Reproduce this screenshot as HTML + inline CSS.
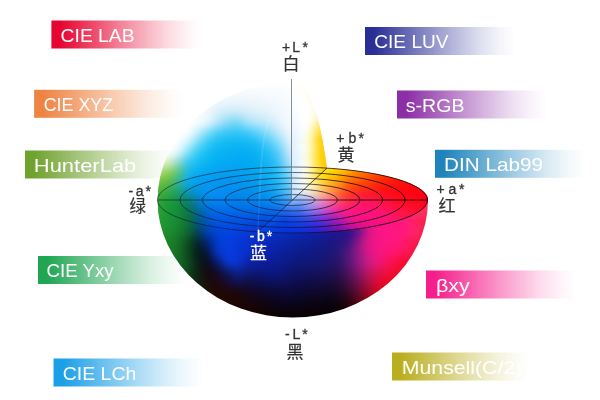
<!DOCTYPE html>
<html lang="zh"><head><meta charset="utf-8"><title>CIE color spaces</title>
<style>
html,body{margin:0;padding:0;background:#fff;}
body{width:600px;height:400px;overflow:hidden;font-family:"Liberation Sans",sans-serif;}
svg{display:block;font-family:"Liberation Sans",sans-serif;}
</style></head><body>
<svg width="600" height="400" viewBox="0 0 600 400">
<defs>
<linearGradient id="bg0" x1="0" y1="0" x2="1" y2="0"><stop offset="0" stop-color="#e60530" stop-opacity="1"/><stop offset="0.06" stop-color="#e60530" stop-opacity="1"/><stop offset="0.36" stop-color="#e60530" stop-opacity="0.62"/><stop offset="0.56" stop-color="#e60530" stop-opacity="0.38"/><stop offset="0.76" stop-color="#e60530" stop-opacity="0.16"/><stop offset="0.9" stop-color="#e60530" stop-opacity="0.05"/><stop offset="1" stop-color="#e60530" stop-opacity="0"/></linearGradient>
<linearGradient id="bg1" x1="0" y1="0" x2="1" y2="0"><stop offset="0" stop-color="#ee8444" stop-opacity="1"/><stop offset="0.06" stop-color="#ee8444" stop-opacity="1"/><stop offset="0.36" stop-color="#ee8444" stop-opacity="0.62"/><stop offset="0.56" stop-color="#ee8444" stop-opacity="0.38"/><stop offset="0.76" stop-color="#ee8444" stop-opacity="0.16"/><stop offset="0.9" stop-color="#ee8444" stop-opacity="0.05"/><stop offset="1" stop-color="#ee8444" stop-opacity="0"/></linearGradient>
<linearGradient id="bg2" x1="0" y1="0" x2="1" y2="0"><stop offset="0" stop-color="#70a22e" stop-opacity="1"/><stop offset="0.06" stop-color="#70a22e" stop-opacity="1"/><stop offset="0.36" stop-color="#70a22e" stop-opacity="0.62"/><stop offset="0.56" stop-color="#70a22e" stop-opacity="0.38"/><stop offset="0.76" stop-color="#70a22e" stop-opacity="0.16"/><stop offset="0.9" stop-color="#70a22e" stop-opacity="0.05"/><stop offset="1" stop-color="#70a22e" stop-opacity="0"/></linearGradient>
<linearGradient id="bg3" x1="0" y1="0" x2="1" y2="0"><stop offset="0" stop-color="#20a653" stop-opacity="1"/><stop offset="0.06" stop-color="#20a653" stop-opacity="1"/><stop offset="0.36" stop-color="#20a653" stop-opacity="0.62"/><stop offset="0.56" stop-color="#20a653" stop-opacity="0.38"/><stop offset="0.76" stop-color="#20a653" stop-opacity="0.16"/><stop offset="0.9" stop-color="#20a653" stop-opacity="0.05"/><stop offset="1" stop-color="#20a653" stop-opacity="0"/></linearGradient>
<linearGradient id="bg4" x1="0" y1="0" x2="1" y2="0"><stop offset="0" stop-color="#1c9fe6" stop-opacity="1"/><stop offset="0.06" stop-color="#1c9fe6" stop-opacity="1"/><stop offset="0.36" stop-color="#1c9fe6" stop-opacity="0.62"/><stop offset="0.56" stop-color="#1c9fe6" stop-opacity="0.38"/><stop offset="0.76" stop-color="#1c9fe6" stop-opacity="0.16"/><stop offset="0.9" stop-color="#1c9fe6" stop-opacity="0.05"/><stop offset="1" stop-color="#1c9fe6" stop-opacity="0"/></linearGradient>
<linearGradient id="bg5" x1="0" y1="0" x2="1" y2="0"><stop offset="0" stop-color="#2a2f96" stop-opacity="1"/><stop offset="0.06" stop-color="#2a2f96" stop-opacity="1"/><stop offset="0.36" stop-color="#2a2f96" stop-opacity="0.62"/><stop offset="0.56" stop-color="#2a2f96" stop-opacity="0.38"/><stop offset="0.76" stop-color="#2a2f96" stop-opacity="0.16"/><stop offset="0.9" stop-color="#2a2f96" stop-opacity="0.05"/><stop offset="1" stop-color="#2a2f96" stop-opacity="0"/></linearGradient>
<linearGradient id="bg6" x1="0" y1="0" x2="1" y2="0"><stop offset="0" stop-color="#8c2ea6" stop-opacity="1"/><stop offset="0.06" stop-color="#8c2ea6" stop-opacity="1"/><stop offset="0.36" stop-color="#8c2ea6" stop-opacity="0.62"/><stop offset="0.56" stop-color="#8c2ea6" stop-opacity="0.38"/><stop offset="0.76" stop-color="#8c2ea6" stop-opacity="0.16"/><stop offset="0.9" stop-color="#8c2ea6" stop-opacity="0.05"/><stop offset="1" stop-color="#8c2ea6" stop-opacity="0"/></linearGradient>
<linearGradient id="bg7" x1="0" y1="0" x2="1" y2="0"><stop offset="0" stop-color="#1e84bb" stop-opacity="1"/><stop offset="0.06" stop-color="#1e84bb" stop-opacity="1"/><stop offset="0.36" stop-color="#1e84bb" stop-opacity="0.62"/><stop offset="0.56" stop-color="#1e84bb" stop-opacity="0.38"/><stop offset="0.76" stop-color="#1e84bb" stop-opacity="0.16"/><stop offset="0.9" stop-color="#1e84bb" stop-opacity="0.05"/><stop offset="1" stop-color="#1e84bb" stop-opacity="0"/></linearGradient>
<linearGradient id="bg8" x1="0" y1="0" x2="1" y2="0"><stop offset="0" stop-color="#f51e8c" stop-opacity="1"/><stop offset="0.06" stop-color="#f51e8c" stop-opacity="1"/><stop offset="0.36" stop-color="#f51e8c" stop-opacity="0.62"/><stop offset="0.56" stop-color="#f51e8c" stop-opacity="0.38"/><stop offset="0.76" stop-color="#f51e8c" stop-opacity="0.16"/><stop offset="0.9" stop-color="#f51e8c" stop-opacity="0.05"/><stop offset="1" stop-color="#f51e8c" stop-opacity="0"/></linearGradient>
<linearGradient id="bg9" x1="0" y1="0" x2="1" y2="0"><stop offset="0" stop-color="#b9ae1e" stop-opacity="1"/><stop offset="0.06" stop-color="#b9ae1e" stop-opacity="1"/><stop offset="0.36" stop-color="#b9ae1e" stop-opacity="0.62"/><stop offset="0.56" stop-color="#b9ae1e" stop-opacity="0.38"/><stop offset="0.76" stop-color="#b9ae1e" stop-opacity="0.16"/><stop offset="0.9" stop-color="#b9ae1e" stop-opacity="0.05"/><stop offset="1" stop-color="#b9ae1e" stop-opacity="0"/></linearGradient>
<clipPath id="bodyClip"><path d="M 292.5,82.5 A 135.0,117.5 0 0 0 157.5,200.0 A 135.0,117.5 0 0 0 292.5,317.5 A 135.0,117.5 0 0 0 428.0,200.0 A 135.0,33.0 0 0 0 327.0,168.1 C 325.8,160 324.8,153 323.5,146 C 322,136 320,127 317.5,118 C 315,108 310,96 304.5,88.5 C 301,84 297,81.5 292.5,82.5 Z"/></clipPath>
<clipPath id="faceClip"><path d="M 291.5,200.0 L 327.0,168.1 C 325.8,160 324.8,153 323.5,146 C 322,136 320,127 317.5,118 C 315,108 310,96 304.5,88.5 C 301,84 297,81.5 291.5,82.5 Z"/></clipPath>
<clipPath id="diskClip"><path d="M 327.0,168.1 A 135.0,33.0 0 0 1 428.0,200.0 A 135.0,33.0 0 0 1 258.0,231.9 Z"/></clipPath>
<filter id="bl4" x="-10%" y="-10%" width="120%" height="120%" color-interpolation-filters="sRGB"><feGaussianBlur stdDeviation="4"/></filter>
<filter id="bl05" x="-50%" y="-10%" width="200%" height="120%"><feGaussianBlur stdDeviation="0.7"/></filter>
<filter id="bl3" x="-10%" y="-10%" width="120%" height="120%" color-interpolation-filters="sRGB"><feGaussianBlur stdDeviation="3"/></filter>
<linearGradient id="lineG" gradientUnits="userSpaceOnUse" x1="157" y1="0" x2="428" y2="0"><stop offset="0" stop-color="#0a1028" stop-opacity="0.55"/><stop offset="0.5" stop-color="#0a1028" stop-opacity="0.6"/><stop offset="0.7" stop-color="#14060c" stop-opacity="0.8"/><stop offset="1" stop-color="#14060c" stop-opacity="0.85"/></linearGradient>
<rect id="c" width="10.6" height="10.6"/>
<rect id="f" width="4.6" height="8.6"/>
<rect id="d" width="8.6" height="8.6"/>
</defs>
<rect width="600" height="400" fill="#fff"/>
<g id="bars" style="will-change:transform">
<rect x="51.4" y="20.5" width="150" height="28" fill="url(#bg0)"/>
<text x="60.6" y="41.6" font-size="19" fill="#fff" textLength="74.0" lengthAdjust="spacingAndGlyphs">CIE LAB</text>
<rect x="34.1" y="89.8" width="150" height="28" fill="url(#bg1)"/>
<text x="43.7" y="111.4" font-size="19" fill="#fff" textLength="69.5" lengthAdjust="spacingAndGlyphs">CIE XYZ</text>
<rect x="25.0" y="150.5" width="150" height="28" fill="url(#bg2)"/>
<text x="33.8" y="171.5" font-size="19" fill="#fff" textLength="102.5" lengthAdjust="spacingAndGlyphs">HunterLab</text>
<rect x="38.0" y="256.0" width="150" height="28" fill="url(#bg3)"/>
<text x="46.6" y="276.5" font-size="19" fill="#fff" textLength="67.0" lengthAdjust="spacingAndGlyphs">CIE Yxy</text>
<rect x="53.5" y="358.5" width="150" height="28" fill="url(#bg4)"/>
<text x="62.8" y="379.5" font-size="19" fill="#fff" textLength="73.5" lengthAdjust="spacingAndGlyphs">CIE LCh</text>
<rect x="365.0" y="27.0" width="150" height="28" fill="url(#bg5)"/>
<text x="374.3" y="48.0" font-size="19" fill="#fff" textLength="74.2" lengthAdjust="spacingAndGlyphs">CIE LUV</text>
<rect x="397.0" y="90.5" width="150" height="28" fill="url(#bg6)"/>
<text x="405.8" y="111.5" font-size="19" fill="#fff" textLength="58.8" lengthAdjust="spacingAndGlyphs">s-RGB</text>
<rect x="435.0" y="149.8" width="150" height="28" fill="url(#bg7)"/>
<text x="444.0" y="170.9" font-size="19" fill="#fff" textLength="99.0" lengthAdjust="spacingAndGlyphs">DIN Lab99</text>
<rect x="426.0" y="270.5" width="150" height="28" fill="url(#bg8)"/>
<text x="436.0" y="291.5" font-size="19" fill="#fff" textLength="33.8" lengthAdjust="spacingAndGlyphs">βxy</text>
<rect x="392.0" y="352.5" width="138" height="28" fill="url(#bg9)"/>
<text x="401.8" y="373.5" font-size="19" fill="#fff" textLength="120.5" lengthAdjust="spacingAndGlyphs">Munsell(C/2)</text>
</g>
<g id="sphere">
<g clip-path="url(#bodyClip)"><g filter="url(#bl4)" transform="translate(-2.5,-2.5)">
<g transform="translate(0,70)">
<use href="#c" x="145" fill="#fffff0"/><use href="#c" x="155" fill="#fffff4"/><use href="#c" x="165" fill="#fffff8"/><use href="#c" x="175" fill="#fffffc"/><use href="#c" x="185" fill="#fffffe"/><rect x="195" width="90.6" height="10.6" fill="#ffffff"/><use href="#c" x="285" fill="#fffffe"/><use href="#c" x="295" fill="#fffefc"/><use href="#c" x="305" fill="#fffaf9"/><use href="#c" x="315" fill="#fff4f4"/><use href="#c" x="325" fill="#ffeeef"/><use href="#c" x="335" fill="#ffe7e9"/><use href="#c" x="345" fill="#ffdfe3"/><use href="#c" x="355" fill="#ffd7dc"/><use href="#c" x="365" fill="#ffcfd5"/><use href="#c" x="375" fill="#ffc7ce"/><use href="#c" x="385" fill="#ffbfc7"/><use href="#c" x="395" fill="#ffb7c0"/><use href="#c" x="405" fill="#ffb0b9"/><use href="#c" x="415" fill="#ffaab3"/><use href="#c" x="425" fill="#ffa4ac"/><use href="#c" x="435" fill="#ff9ea6"/>
</g>
<g transform="translate(0,80)">
<use href="#c" x="145" fill="#ffffef"/><use href="#c" x="155" fill="#fffff4"/><use href="#c" x="165" fill="#fffff8"/><use href="#c" x="175" fill="#fffffc"/><use href="#c" x="185" fill="#fffffe"/><rect x="195" width="100.6" height="10.6" fill="#ffffff"/><use href="#c" x="295" fill="#fffdfd"/><use href="#c" x="305" fill="#fff9f9"/><use href="#c" x="315" fill="#fff3f4"/><use href="#c" x="325" fill="#ffecee"/><use href="#c" x="335" fill="#ffe4e8"/><use href="#c" x="345" fill="#ffdbe1"/><use href="#c" x="355" fill="#ffd3da"/><use href="#c" x="365" fill="#ffcad3"/><use href="#c" x="375" fill="#ffc1cc"/><use href="#c" x="385" fill="#ffb9c4"/><use href="#c" x="395" fill="#ffb1bd"/><use href="#c" x="405" fill="#ffaab6"/><use href="#c" x="415" fill="#ffa3af"/><use href="#c" x="425" fill="#ff9da8"/><use href="#c" x="435" fill="#ff97a1"/>
</g>
<g transform="translate(0,90)">
<use href="#c" x="145" fill="#ffffed"/><use href="#c" x="155" fill="#fffff4"/><use href="#c" x="165" fill="#fffff9"/><use href="#c" x="175" fill="#fffffc"/><use href="#c" x="185" fill="#fffffe"/><use href="#c" x="195" fill="#ffffff"/><use href="#c" x="205" fill="#fffffe"/><use href="#c" x="215" fill="#fffffe"/><use href="#c" x="225" fill="#fafcfd"/><use href="#c" x="235" fill="#f6fafd"/><use href="#c" x="245" fill="#f7fafd"/><use href="#c" x="255" fill="#f6fafd"/><use href="#c" x="265" fill="#f7fbfd"/><use href="#c" x="275" fill="#f7fbfd"/><use href="#c" x="285" fill="#fafdfe"/><use href="#c" x="295" fill="#fffcfd"/><use href="#c" x="305" fill="#fff7f9"/><use href="#c" x="315" fill="#fff1f4"/><use href="#c" x="325" fill="#ffe9ee"/><use href="#c" x="335" fill="#ffe1e7"/><use href="#c" x="345" fill="#ffd7e0"/><use href="#c" x="355" fill="#ffced8"/><use href="#c" x="365" fill="#ffc4d1"/><use href="#c" x="375" fill="#ffbbc9"/><use href="#c" x="385" fill="#ffb3c1"/><use href="#c" x="395" fill="#ffaab9"/><use href="#c" x="405" fill="#ffa3b1"/><use href="#c" x="415" fill="#ff9caa"/><use href="#c" x="425" fill="#ff96a3"/><use href="#c" x="435" fill="#ff909c"/>
</g>
<g transform="translate(0,100)">
<use href="#c" x="145" fill="#ffffec"/><use href="#c" x="155" fill="#fffff3"/><use href="#c" x="165" fill="#fffff9"/><use href="#c" x="175" fill="#fffffc"/><use href="#c" x="185" fill="#fffffe"/><use href="#c" x="195" fill="#fffffe"/><use href="#c" x="205" fill="#fafcfd"/><use href="#c" x="215" fill="#eff7fb"/><use href="#c" x="225" fill="#eaf5fb"/><use href="#c" x="235" fill="#eaf4fb"/><use href="#c" x="245" fill="#ebf4fb"/><use href="#c" x="255" fill="#eef6fb"/><use href="#c" x="265" fill="#f0f7fc"/><use href="#c" x="275" fill="#f3f9fd"/><use href="#c" x="285" fill="#f6fafd"/><use href="#c" x="295" fill="#fffafc"/><use href="#c" x="305" fill="#fff6f8"/><use href="#c" x="315" fill="#ffeff3"/><use href="#c" x="325" fill="#ffe7ed"/><use href="#c" x="335" fill="#ffdde6"/><use href="#c" x="345" fill="#ffd2de"/><use href="#c" x="355" fill="#ffc8d6"/><use href="#c" x="365" fill="#ffbece"/><use href="#c" x="375" fill="#ffb4c5"/><use href="#c" x="385" fill="#ffabbd"/><use href="#c" x="395" fill="#ffa3b5"/><use href="#c" x="405" fill="#ff9bad"/><use href="#c" x="415" fill="#ff94a5"/><use href="#c" x="425" fill="#ff8e9e"/><use href="#c" x="435" fill="#ff8897"/>
</g>
<g transform="translate(0,110)">
<use href="#c" x="145" fill="#ffffea"/><use href="#c" x="155" fill="#fffff2"/><use href="#c" x="165" fill="#fffff9"/><use href="#c" x="175" fill="#fffffd"/><use href="#c" x="185" fill="#fffffe"/><use href="#c" x="195" fill="#f9fcfd"/><use href="#c" x="205" fill="#f0f7fc"/><use href="#c" x="215" fill="#d9effa"/><use href="#c" x="225" fill="#c8eaf9"/><use href="#c" x="235" fill="#c8eaf9"/><use href="#c" x="245" fill="#d5edf9"/><use href="#c" x="255" fill="#def0fa"/><use href="#c" x="265" fill="#e4f2fb"/><use href="#c" x="275" fill="#edf6fc"/><use href="#c" x="285" fill="#f5f9fd"/><use href="#c" x="295" fill="#fff9fc"/><use href="#c" x="305" fill="#fff5f8"/><use href="#c" x="315" fill="#ffedf2"/><use href="#c" x="325" fill="#ffe3ec"/><use href="#c" x="335" fill="#ffd8e4"/><use href="#c" x="345" fill="#ffcddc"/><use href="#c" x="355" fill="#ffc1d3"/><use href="#c" x="365" fill="#ffb6ca"/><use href="#c" x="375" fill="#ffacc2"/><use href="#c" x="385" fill="#ffa3b9"/><use href="#c" x="395" fill="#ff9ab0"/><use href="#c" x="405" fill="#ff92a8"/><use href="#c" x="415" fill="#ff8ca0"/><use href="#c" x="425" fill="#ff8598"/><use href="#c" x="435" fill="#ff8091"/>
</g>
<g transform="translate(0,120)">
<use href="#c" x="145" fill="#ffffe6"/><use href="#c" x="155" fill="#fffff1"/><use href="#c" x="165" fill="#fffffa"/><use href="#c" x="175" fill="#fffffe"/><use href="#c" x="185" fill="#ffffff"/><use href="#c" x="195" fill="#fafdfe"/><use href="#c" x="205" fill="#ebf8fd"/><use href="#c" x="215" fill="#b5e5f9"/><use href="#c" x="225" fill="#8bdaf7"/><use href="#c" x="235" fill="#73d7f8"/><use href="#c" x="245" fill="#a5e3f9"/><use href="#c" x="255" fill="#b8e7fa"/><use href="#c" x="265" fill="#c6eafb"/><use href="#c" x="275" fill="#e1f2fc"/><use href="#c" x="285" fill="#f5f9fd"/><use href="#c" x="295" fill="#fffafc"/><use href="#c" x="305" fill="#fff4f8"/><use href="#c" x="315" fill="#ffebf2"/><use href="#c" x="325" fill="#ffdfea"/><use href="#c" x="335" fill="#ffd2e2"/><use href="#c" x="345" fill="#ffc5d9"/><use href="#c" x="355" fill="#ffb9d0"/><use href="#c" x="365" fill="#ffadc7"/><use href="#c" x="375" fill="#ffa3bd"/><use href="#c" x="385" fill="#ff99b4"/><use href="#c" x="395" fill="#ff90ab"/><use href="#c" x="405" fill="#ff89a2"/><use href="#c" x="415" fill="#ff829a"/><use href="#c" x="425" fill="#ff7c92"/><use href="#c" x="435" fill="#ff778b"/>
</g>
<g transform="translate(0,130)">
<use href="#c" x="145" fill="#ffffe1"/><use href="#c" x="155" fill="#fffff0"/><use href="#c" x="165" fill="#fffffa"/><use href="#c" x="175" fill="#ffffff"/><use href="#c" x="185" fill="#ffffff"/><use href="#c" x="195" fill="#caf0fb"/><use href="#c" x="205" fill="#7cdef9"/><use href="#c" x="215" fill="#4dcdf6"/><use href="#c" x="225" fill="#36c7f6"/><use href="#c" x="235" fill="#31c4f7"/><use href="#c" x="245" fill="#3ec9f8"/><use href="#c" x="255" fill="#5fd2f9"/><use href="#c" x="265" fill="#89dcf9"/><use href="#c" x="275" fill="#bce9fa"/><use href="#c" x="285" fill="#e9f5fc"/><use href="#c" x="295" fill="#fff9fc"/><use href="#c" x="305" fill="#fff2f7"/><use href="#c" x="315" fill="#ffe7f1"/><use href="#c" x="325" fill="#ffd9e9"/><use href="#c" x="335" fill="#ffcbe0"/><use href="#c" x="345" fill="#ffbcd6"/><use href="#c" x="355" fill="#ffafcc"/><use href="#c" x="365" fill="#ffa3c2"/><use href="#c" x="375" fill="#ff98b8"/><use href="#c" x="385" fill="#ff8eaf"/><use href="#c" x="395" fill="#ff86a5"/><use href="#c" x="405" fill="#ff7e9c"/><use href="#c" x="415" fill="#ff7894"/><use href="#c" x="425" fill="#ff738c"/><use href="#c" x="435" fill="#ff6e84"/>
</g>
<g transform="translate(0,140)">
<use href="#c" x="145" fill="#ffffd7"/><use href="#c" x="155" fill="#ffffeb"/><use href="#c" x="165" fill="#fffffc"/><use href="#c" x="175" fill="#ffffff"/><use href="#c" x="185" fill="#d3f4fd"/><use href="#c" x="195" fill="#7bddf8"/><use href="#c" x="205" fill="#35caf5"/><use href="#c" x="215" fill="#18bef4"/><use href="#c" x="225" fill="#11baf4"/><use href="#c" x="235" fill="#10b7f5"/><use href="#c" x="245" fill="#12b8f5"/><use href="#c" x="255" fill="#22bdf6"/><use href="#c" x="265" fill="#4acbf8"/><use href="#c" x="275" fill="#7edbf9"/><use href="#c" x="285" fill="#d2edfb"/><use href="#c" x="295" fill="#fff6fb"/><use href="#c" x="305" fill="#ffeef6"/><use href="#c" x="315" fill="#ffe1ef"/><use href="#c" x="325" fill="#ffd1e7"/><use href="#c" x="335" fill="#ffc1dd"/><use href="#c" x="345" fill="#ffb1d3"/><use href="#c" x="355" fill="#ffa3c8"/><use href="#c" x="365" fill="#ff96be"/><use href="#c" x="375" fill="#ff8bb3"/><use href="#c" x="385" fill="#ff82a9"/><use href="#c" x="395" fill="#ff7a9f"/><use href="#c" x="405" fill="#ff7396"/><use href="#c" x="415" fill="#ff6d8d"/><use href="#c" x="425" fill="#ff6885"/><use href="#c" x="435" fill="#ff647d"/>
</g>
<g transform="translate(0,150)">
<use href="#c" x="145" fill="#f9fbc3"/><use href="#c" x="155" fill="#fffede"/><use href="#c" x="165" fill="#fffffd"/><use href="#c" x="175" fill="#e8f8fe"/><use href="#c" x="185" fill="#87e0f8"/><use href="#c" x="195" fill="#33cbf4"/><use href="#c" x="205" fill="#14bdf3"/><use href="#c" x="215" fill="#09b4f3"/><use href="#c" x="225" fill="#07b0f3"/><use href="#c" x="235" fill="#06adf3"/><use href="#c" x="245" fill="#05adf4"/><use href="#c" x="255" fill="#0bb1f4"/><use href="#c" x="265" fill="#22bdf6"/><use href="#c" x="275" fill="#51cbf8"/><use href="#c" x="285" fill="#b6e3fa"/><use href="#c" x="295" fill="#f8f1fa"/><use href="#c" x="305" fill="#ffe8f5"/><use href="#c" x="315" fill="#ffd8ee"/><use href="#c" x="325" fill="#ffc6e4"/><use href="#c" x="335" fill="#ffb4da"/><use href="#c" x="345" fill="#ffa3cf"/><use href="#c" x="355" fill="#ff95c3"/><use href="#c" x="365" fill="#ff88b8"/><use href="#c" x="375" fill="#ff7dad"/><use href="#c" x="385" fill="#ff74a2"/><use href="#c" x="395" fill="#ff6d98"/><use href="#c" x="405" fill="#ff678f"/><use href="#c" x="415" fill="#ff6286"/><use href="#c" x="425" fill="#ff5e7d"/><use href="#c" x="435" fill="#ff5a75"/>
</g>
<g transform="translate(0,160)">
<use href="#c" x="145" fill="#daeda1"/><use href="#c" x="155" fill="#dff0b4"/><use href="#c" x="165" fill="#def0c5"/><use href="#c" x="175" fill="#90dacb"/><use href="#c" x="185" fill="#36c8eb"/><use href="#c" x="195" fill="#16bef3"/><use href="#c" x="205" fill="#09b4f3"/><use href="#c" x="215" fill="#04adf3"/><use href="#c" x="225" fill="#04aaf3"/><use href="#c" x="235" fill="#03a8f2"/><use href="#c" x="245" fill="#04a9f1"/><use href="#c" x="255" fill="#06adf2"/><use href="#c" x="265" fill="#12b5f5"/><use href="#c" x="275" fill="#35c1f7"/><use href="#c" x="285" fill="#98dcf9"/><use href="#c" x="295" fill="#e3e9f9"/><use href="#c" x="305" fill="#f9ddf4"/><use href="#c" x="315" fill="#ffcbec"/><use href="#c" x="325" fill="#ffb7e2"/><use href="#c" x="335" fill="#ffa3d6"/><use href="#c" x="345" fill="#ff92ca"/><use href="#c" x="355" fill="#ff84be"/><use href="#c" x="365" fill="#ff78b2"/><use href="#c" x="375" fill="#ff6ea6"/><use href="#c" x="385" fill="#ff669b"/><use href="#c" x="395" fill="#ff5f91"/><use href="#c" x="405" fill="#ff5a88"/><use href="#c" x="415" fill="#ff567e"/><use href="#c" x="425" fill="#ff5375"/><use href="#c" x="435" fill="#ff506d"/>
</g>
<g transform="translate(0,170)">
<use href="#c" x="145" fill="#b1db76"/><use href="#c" x="155" fill="#a8d971"/><use href="#c" x="165" fill="#94d158"/><use href="#c" x="175" fill="#61c36c"/><use href="#c" x="185" fill="#1ab8e5"/><use href="#c" x="195" fill="#09adf2"/><use href="#c" x="205" fill="#05a6f2"/><use href="#c" x="215" fill="#04a1f1"/><use href="#c" x="225" fill="#049ff1"/><use href="#c" x="235" fill="#03a0f0"/><use href="#c" x="245" fill="#04a5ee"/><use href="#c" x="255" fill="#06a8f0"/><use href="#c" x="265" fill="#10b1f3"/><use href="#c" x="275" fill="#25bef7"/><use href="#c" x="285" fill="#6fd6fa"/><use href="#c" x="295" fill="#c5def8"/><use href="#c" x="305" fill="#e0cff3"/><use href="#c" x="315" fill="#eab9ea"/><use href="#c" x="325" fill="#f1a3df"/><use href="#c" x="335" fill="#fa8fd2"/><use href="#c" x="345" fill="#ff7ec4"/><use href="#c" x="355" fill="#ff70b7"/><use href="#c" x="365" fill="#ff65aa"/><use href="#c" x="375" fill="#ff5d9f"/><use href="#c" x="385" fill="#ff5694"/><use href="#c" x="395" fill="#ff518a"/><use href="#c" x="405" fill="#ff4d80"/><use href="#c" x="415" fill="#ff4a76"/><use href="#c" x="425" fill="#ff476d"/><use href="#c" x="435" fill="#ff4564"/>
</g>
<g transform="translate(0,180)">
<use href="#c" x="145" fill="#87c952"/><use href="#c" x="155" fill="#71c042"/><use href="#c" x="165" fill="#5eba39"/><use href="#c" x="175" fill="#33b28d"/><use href="#c" x="185" fill="#07abed"/><use href="#c" x="195" fill="#039df0"/><use href="#c" x="205" fill="#0499f1"/><use href="#c" x="215" fill="#0596f0"/><use href="#c" x="225" fill="#0593ef"/><use href="#c" x="235" fill="#0396ef"/><use href="#c" x="245" fill="#0398ee"/><use href="#c" x="255" fill="#069cee"/><use href="#c" x="265" fill="#10a9f1"/><use href="#c" x="275" fill="#20b7f5"/><use href="#c" x="285" fill="#5cd0f8"/><use href="#c" x="295" fill="#b1d1f8"/><use href="#c" x="305" fill="#c3bbf1"/><use href="#c" x="315" fill="#cba1e7"/><use href="#c" x="325" fill="#d48adb"/><use href="#c" x="335" fill="#e177cd"/><use href="#c" x="345" fill="#f367be"/><use href="#c" x="355" fill="#ff5baf"/><use href="#c" x="365" fill="#ff52a2"/><use href="#c" x="375" fill="#ff4b97"/><use href="#c" x="385" fill="#ff468c"/><use href="#c" x="395" fill="#ff4283"/><use href="#c" x="405" fill="#ff4079"/><use href="#c" x="415" fill="#ff3f6f"/><use href="#c" x="425" fill="#ff3d65"/><use href="#c" x="435" fill="#ff3b5b"/>
</g>
<g transform="translate(0,190)">
<use href="#c" x="145" fill="#64b93f"/><use href="#c" x="155" fill="#4daf38"/><use href="#c" x="165" fill="#33a842"/><use href="#c" x="175" fill="#1c9e72"/><use href="#c" x="185" fill="#0994ac"/><use href="#c" x="195" fill="#0491dd"/><use href="#c" x="205" fill="#0592f1"/><use href="#c" x="215" fill="#0590f1"/><use href="#c" x="225" fill="#058cf0"/><use href="#c" x="235" fill="#038bed"/><use href="#c" x="245" fill="#038ceb"/><use href="#c" x="255" fill="#0591ec"/><use href="#c" x="265" fill="#0899ef"/><use href="#c" x="275" fill="#15a4f4"/><use href="#c" x="285" fill="#54c1f8"/><use href="#c" x="295" fill="#95bbf5"/><use href="#c" x="305" fill="#9b9dee"/><use href="#c" x="315" fill="#a183e3"/><use href="#c" x="325" fill="#ac6cd7"/><use href="#c" x="335" fill="#c15bc7"/><use href="#c" x="345" fill="#dd4eb5"/><use href="#c" x="355" fill="#f944a5"/><use href="#c" x="365" fill="#ff3d98"/><use href="#c" x="375" fill="#ff398e"/><use href="#c" x="385" fill="#ff3585"/><use href="#c" x="395" fill="#ff347c"/><use href="#c" x="405" fill="#ff3473"/><use href="#c" x="415" fill="#ff3569"/><use href="#c" x="425" fill="#ff335c"/><use href="#c" x="435" fill="#ff3252"/>
</g>
<g transform="translate(0,200)">
<use href="#c" x="145" fill="#4caf37"/><use href="#c" x="155" fill="#32a536"/><use href="#c" x="165" fill="#1b9c39"/><use href="#c" x="175" fill="#15903f"/><use href="#c" x="185" fill="#0a7e65"/><use href="#c" x="195" fill="#017bb3"/><use href="#c" x="205" fill="#0482e5"/><use href="#c" x="215" fill="#0481ee"/><use href="#c" x="225" fill="#047fed"/><use href="#c" x="235" fill="#027ce9"/><use href="#c" x="245" fill="#017de6"/><use href="#c" x="255" fill="#027fe8"/><use href="#c" x="265" fill="#0582eb"/><use href="#c" x="275" fill="#148bee"/><use href="#c" x="285" fill="#3c95f2"/><use href="#c" x="295" fill="#5c8af0"/><use href="#c" x="305" fill="#6473e8"/><use href="#c" x="315" fill="#6d5ede"/><use href="#c" x="325" fill="#7c4bd2"/><use href="#c" x="335" fill="#983dc0"/><use href="#c" x="345" fill="#c234ac"/><use href="#c" x="355" fill="#ef2d99"/><use href="#c" x="365" fill="#ff2a8e"/><use href="#c" x="375" fill="#ff2886"/><use href="#c" x="385" fill="#ff267e"/><use href="#c" x="395" fill="#ff2675"/><use href="#c" x="405" fill="#ff2a6f"/><use href="#c" x="415" fill="#ff3068"/><use href="#c" x="425" fill="#fd2b54"/><use href="#c" x="435" fill="#fe2b49"/>
</g>
<g transform="translate(0,210)">
<use href="#c" x="145" fill="#3ea732"/><use href="#c" x="155" fill="#2a9e34"/><use href="#c" x="165" fill="#1b9636"/><use href="#c" x="175" fill="#158e38"/><use href="#c" x="185" fill="#0c7442"/><use href="#c" x="195" fill="#01658d"/><use href="#c" x="205" fill="#0065d5"/><use href="#c" x="215" fill="#0169e9"/><use href="#c" x="225" fill="#0167e9"/><use href="#c" x="235" fill="#0166e6"/><use href="#c" x="245" fill="#0166e3"/><use href="#c" x="255" fill="#0165e3"/><use href="#c" x="265" fill="#0264e4"/><use href="#c" x="275" fill="#0964e6"/><use href="#c" x="285" fill="#185fe9"/><use href="#c" x="295" fill="#1a4fe6"/><use href="#c" x="305" fill="#2b46dc"/><use href="#c" x="315" fill="#3b3bd3"/><use href="#c" x="325" fill="#4629cc"/><use href="#c" x="335" fill="#6623b8"/><use href="#c" x="345" fill="#9a1fa1"/><use href="#c" x="355" fill="#e7198a"/><use href="#c" x="365" fill="#ff1a84"/><use href="#c" x="375" fill="#ff1b82"/><use href="#c" x="385" fill="#ff1b7d"/><use href="#c" x="395" fill="#ff1972"/><use href="#c" x="405" fill="#ff2170"/><use href="#c" x="415" fill="#ff2c67"/><use href="#c" x="425" fill="#fc325b"/><use href="#c" x="435" fill="#f92742"/>
</g>
<g transform="translate(0,220)">
<use href="#c" x="145" fill="#36a02e"/><use href="#c" x="155" fill="#289a30"/><use href="#c" x="165" fill="#1d9433"/><use href="#c" x="175" fill="#168a31"/><use href="#c" x="185" fill="#0e733a"/><use href="#c" x="195" fill="#035875"/><use href="#c" x="205" fill="#0052c0"/><use href="#c" x="215" fill="#0053e1"/><use href="#c" x="225" fill="#0152e5"/><use href="#c" x="235" fill="#044fe1"/><use href="#c" x="245" fill="#054bdd"/><use href="#c" x="255" fill="#0547dd"/><use href="#c" x="265" fill="#0446db"/><use href="#c" x="275" fill="#0743dc"/><use href="#c" x="285" fill="#093add"/><use href="#c" x="295" fill="#0632d2"/><use href="#c" x="305" fill="#102cc8"/><use href="#c" x="315" fill="#1c26be"/><use href="#c" x="325" fill="#261cb6"/><use href="#c" x="335" fill="#3916a7"/><use href="#c" x="345" fill="#581396"/><use href="#c" x="355" fill="#97118a"/><use href="#c" x="365" fill="#dd1485"/><use href="#c" x="375" fill="#fc1584"/><use href="#c" x="385" fill="#ff1581"/><use href="#c" x="395" fill="#ff167e"/><use href="#c" x="405" fill="#ff1d7e"/><use href="#c" x="415" fill="#ff1f57"/><use href="#c" x="425" fill="#f61d3b"/><use href="#c" x="435" fill="#f51e35"/>
</g>
<g transform="translate(0,230)">
<use href="#c" x="145" fill="#319a29"/><use href="#c" x="155" fill="#26932c"/><use href="#c" x="165" fill="#1c8c2f"/><use href="#c" x="175" fill="#16812d"/><use href="#c" x="185" fill="#0e662f"/><use href="#c" x="195" fill="#034253"/><use href="#c" x="205" fill="#003eb4"/><use href="#c" x="215" fill="#0143db"/><use href="#c" x="225" fill="#0443e0"/><use href="#c" x="235" fill="#063fdc"/><use href="#c" x="245" fill="#0939d4"/><use href="#c" x="255" fill="#0835ce"/><use href="#c" x="265" fill="#0832ca"/><use href="#c" x="275" fill="#0830c5"/><use href="#c" x="285" fill="#082bbd"/><use href="#c" x="295" fill="#0827b6"/><use href="#c" x="305" fill="#0b23ad"/><use href="#c" x="315" fill="#111ea3"/><use href="#c" x="325" fill="#18199a"/><use href="#c" x="335" fill="#1f1590"/><use href="#c" x="345" fill="#23118c"/><use href="#c" x="355" fill="#58128b"/><use href="#c" x="365" fill="#ce1588"/><use href="#c" x="375" fill="#f81487"/><use href="#c" x="385" fill="#ff1485"/><use href="#c" x="395" fill="#ff1680"/><use href="#c" x="405" fill="#ff1b74"/><use href="#c" x="415" fill="#fe286c"/><use href="#c" x="425" fill="#f31c40"/><use href="#c" x="435" fill="#f2192e"/>
</g>
<g transform="translate(0,240)">
<use href="#c" x="145" fill="#2e9324"/><use href="#c" x="155" fill="#248c26"/><use href="#c" x="165" fill="#1c8229"/><use href="#c" x="175" fill="#167428"/><use href="#c" x="185" fill="#0d4e20"/><use href="#c" x="195" fill="#052226"/><use href="#c" x="205" fill="#01247a"/><use href="#c" x="215" fill="#023acf"/><use href="#c" x="225" fill="#053fe0"/><use href="#c" x="235" fill="#0537d7"/><use href="#c" x="245" fill="#0832d0"/><use href="#c" x="255" fill="#0a2ac0"/><use href="#c" x="265" fill="#0a27b9"/><use href="#c" x="275" fill="#0a26b1"/><use href="#c" x="285" fill="#0a24a5"/><use href="#c" x="295" fill="#0c229d"/><use href="#c" x="305" fill="#0d1f96"/><use href="#c" x="315" fill="#101c8c"/><use href="#c" x="325" fill="#161885"/><use href="#c" x="335" fill="#21167d"/><use href="#c" x="345" fill="#351582"/><use href="#c" x="355" fill="#8a1687"/><use href="#c" x="365" fill="#e11687"/><use href="#c" x="375" fill="#f71485"/><use href="#c" x="385" fill="#fd1584"/><use href="#c" x="395" fill="#ff187d"/><use href="#c" x="405" fill="#ff1861"/><use href="#c" x="415" fill="#f71945"/><use href="#c" x="425" fill="#f3193a"/><use href="#c" x="435" fill="#f1152a"/>
</g>
<g transform="translate(0,250)">
<use href="#c" x="145" fill="#2b8c1e"/><use href="#c" x="155" fill="#238621"/><use href="#c" x="165" fill="#1c7e24"/><use href="#c" x="175" fill="#157027"/><use href="#c" x="185" fill="#0d491e"/><use href="#c" x="195" fill="#051b18"/><use href="#c" x="205" fill="#05133c"/><use href="#c" x="215" fill="#0538cb"/><use href="#c" x="225" fill="#073ddf"/><use href="#c" x="235" fill="#0736d9"/><use href="#c" x="245" fill="#092fc8"/><use href="#c" x="255" fill="#0a26b6"/><use href="#c" x="265" fill="#0b22ab"/><use href="#c" x="275" fill="#0b20a1"/><use href="#c" x="285" fill="#0c1e95"/><use href="#c" x="295" fill="#0d1d8c"/><use href="#c" x="305" fill="#0e1b86"/><use href="#c" x="315" fill="#111980"/><use href="#c" x="325" fill="#181779"/><use href="#c" x="335" fill="#271676"/><use href="#c" x="345" fill="#4e167e"/><use href="#c" x="355" fill="#931886"/><use href="#c" x="365" fill="#d61786"/><use href="#c" x="375" fill="#f41585"/><use href="#c" x="385" fill="#fd1477"/><use href="#c" x="395" fill="#ff1569"/><use href="#c" x="405" fill="#fc1653"/><use href="#c" x="415" fill="#f4163c"/><use href="#c" x="425" fill="#f01128"/><use href="#c" x="435" fill="#f01120"/>
</g>
<g transform="translate(0,260)">
<use href="#c" x="145" fill="#298418"/><use href="#c" x="155" fill="#227e1b"/><use href="#c" x="165" fill="#1b761f"/><use href="#c" x="175" fill="#156b22"/><use href="#c" x="185" fill="#0f5020"/><use href="#c" x="195" fill="#0a1f15"/><use href="#c" x="205" fill="#0c0b21"/><use href="#c" x="215" fill="#091a68"/><use href="#c" x="225" fill="#083bd2"/><use href="#c" x="235" fill="#0935d5"/><use href="#c" x="245" fill="#0a24aa"/><use href="#c" x="255" fill="#0b1f9f"/><use href="#c" x="265" fill="#0c1d9b"/><use href="#c" x="275" fill="#0c1c92"/><use href="#c" x="285" fill="#0c1a85"/><use href="#c" x="295" fill="#0e187b"/><use href="#c" x="305" fill="#101776"/><use href="#c" x="315" fill="#141776"/><use href="#c" x="325" fill="#1a156e"/><use href="#c" x="335" fill="#271468"/><use href="#c" x="345" fill="#501674"/><use href="#c" x="355" fill="#8a1982"/><use href="#c" x="365" fill="#c91c85"/><use href="#c" x="375" fill="#ea177d"/><use href="#c" x="385" fill="#f8125c"/><use href="#c" x="395" fill="#f90f3b"/><use href="#c" x="405" fill="#f10a29"/><use href="#c" x="415" fill="#f10d26"/><use href="#c" x="425" fill="#ef0d1d"/><use href="#c" x="435" fill="#ee0c17"/>
</g>
<g transform="translate(0,270)">
<use href="#c" x="145" fill="#277b12"/><use href="#c" x="155" fill="#217414"/><use href="#c" x="165" fill="#1a6b17"/><use href="#c" x="175" fill="#155f1b"/><use href="#c" x="185" fill="#0f471b"/><use href="#c" x="195" fill="#0e2114"/><use href="#c" x="205" fill="#15080c"/><use href="#c" x="215" fill="#130a29"/><use href="#c" x="225" fill="#0e165f"/><use href="#c" x="235" fill="#0c238e"/><use href="#c" x="245" fill="#0d1b7b"/><use href="#c" x="255" fill="#0c177b"/><use href="#c" x="265" fill="#0c1781"/><use href="#c" x="275" fill="#0c1783"/><use href="#c" x="285" fill="#0d1572"/><use href="#c" x="295" fill="#0e1366"/><use href="#c" x="305" fill="#101261"/><use href="#c" x="315" fill="#14125f"/><use href="#c" x="325" fill="#191158"/><use href="#c" x="335" fill="#281053"/><use href="#c" x="345" fill="#49115d"/><use href="#c" x="355" fill="#7d1469"/><use href="#c" x="365" fill="#b81467"/><use href="#c" x="375" fill="#df1154"/><use href="#c" x="385" fill="#f10e3d"/><use href="#c" x="395" fill="#f50c2c"/><use href="#c" x="405" fill="#f30a25"/><use href="#c" x="415" fill="#ef091a"/><use href="#c" x="425" fill="#ed0913"/><use href="#c" x="435" fill="#ec090e"/>
</g>
<g transform="translate(0,280)">
<use href="#c" x="145" fill="#26710b"/><use href="#c" x="155" fill="#20690d"/><use href="#c" x="165" fill="#1a5f0f"/><use href="#c" x="175" fill="#155111"/><use href="#c" x="185" fill="#103d13"/><use href="#c" x="195" fill="#112212"/><use href="#c" x="205" fill="#1b0b0a"/><use href="#c" x="215" fill="#1f070d"/><use href="#c" x="225" fill="#150c31"/><use href="#c" x="235" fill="#111150"/><use href="#c" x="245" fill="#100e42"/><use href="#c" x="255" fill="#0d0e4c"/><use href="#c" x="265" fill="#0c0f58"/><use href="#c" x="275" fill="#0d105c"/><use href="#c" x="285" fill="#0e0f55"/><use href="#c" x="295" fill="#0d0d4d"/><use href="#c" x="305" fill="#0f0c48"/><use href="#c" x="315" fill="#120c45"/><use href="#c" x="325" fill="#160c3f"/><use href="#c" x="335" fill="#210b38"/><use href="#c" x="345" fill="#3d0e43"/><use href="#c" x="355" fill="#6c0f4d"/><use href="#c" x="365" fill="#ac0e47"/><use href="#c" x="375" fill="#d90a30"/><use href="#c" x="385" fill="#ec0923"/><use href="#c" x="395" fill="#f0081c"/><use href="#c" x="405" fill="#ef0716"/><use href="#c" x="415" fill="#ec0610"/><use href="#c" x="425" fill="#ea060a"/><use href="#c" x="435" fill="#e90606"/>
</g>
<g transform="translate(0,290)">
<use href="#c" x="145" fill="#266804"/><use href="#c" x="155" fill="#205f05"/><use href="#c" x="165" fill="#1b5406"/><use href="#c" x="175" fill="#174607"/><use href="#c" x="185" fill="#143508"/><use href="#c" x="195" fill="#142107"/><use href="#c" x="205" fill="#1b1004"/><use href="#c" x="215" fill="#210800"/><use href="#c" x="225" fill="#1f0705"/><use href="#c" x="235" fill="#1c0609"/><use href="#c" x="245" fill="#15071a"/><use href="#c" x="255" fill="#100726"/><use href="#c" x="265" fill="#0d0831"/><use href="#c" x="275" fill="#0c0935"/><use href="#c" x="285" fill="#0c0a3a"/><use href="#c" x="295" fill="#0b0838"/><use href="#c" x="305" fill="#0d0830"/><use href="#c" x="315" fill="#0f082b"/><use href="#c" x="325" fill="#100826"/><use href="#c" x="335" fill="#190824"/><use href="#c" x="345" fill="#310a29"/><use href="#c" x="355" fill="#5d0d2f"/><use href="#c" x="365" fill="#990726"/><use href="#c" x="375" fill="#d90620"/><use href="#c" x="385" fill="#e40515"/><use href="#c" x="395" fill="#e7040f"/><use href="#c" x="405" fill="#e7040a"/><use href="#c" x="415" fill="#e60306"/><use href="#c" x="425" fill="#e50301"/><use href="#c" x="435" fill="#e50300"/>
</g>
<g transform="translate(0,300)">
<use href="#c" x="145" fill="#255f00"/><use href="#c" x="155" fill="#205600"/><use href="#c" x="165" fill="#1c4b00"/><use href="#c" x="175" fill="#193f00"/><use href="#c" x="185" fill="#183000"/><use href="#c" x="195" fill="#182100"/><use href="#c" x="205" fill="#1c1400"/><use href="#c" x="215" fill="#1f0b00"/><use href="#c" x="225" fill="#1f0700"/><use href="#c" x="235" fill="#1d0602"/><use href="#c" x="245" fill="#1a0509"/><use href="#c" x="255" fill="#14050f"/><use href="#c" x="265" fill="#0f0514"/><use href="#c" x="275" fill="#0c051b"/><use href="#c" x="285" fill="#0a0523"/><use href="#c" x="295" fill="#0a051e"/><use href="#c" x="305" fill="#0b0518"/><use href="#c" x="315" fill="#0c0513"/><use href="#c" x="325" fill="#080412"/><use href="#c" x="335" fill="#0c0410"/><use href="#c" x="345" fill="#24030f"/><use href="#c" x="355" fill="#500311"/><use href="#c" x="365" fill="#890210"/><use href="#c" x="375" fill="#bd020e"/><use href="#c" x="385" fill="#d00109"/><use href="#c" x="395" fill="#d80104"/><use href="#c" x="405" fill="#db0100"/><use href="#c" x="415" fill="#dd0000"/><use href="#c" x="425" fill="#dd0000"/><use href="#c" x="435" fill="#de0000"/>
</g>
<g transform="translate(0,310)">
<use href="#c" x="145" fill="#255800"/><use href="#c" x="155" fill="#214f00"/><use href="#c" x="165" fill="#1e4400"/><use href="#c" x="175" fill="#1b3900"/><use href="#c" x="185" fill="#1a2c00"/><use href="#c" x="195" fill="#1a2000"/><use href="#c" x="205" fill="#1c1500"/><use href="#c" x="215" fill="#1d0d00"/><use href="#c" x="225" fill="#1d0800"/><use href="#c" x="235" fill="#1c0600"/><use href="#c" x="245" fill="#190400"/><use href="#c" x="255" fill="#150300"/><use href="#c" x="265" fill="#100301"/><use href="#c" x="275" fill="#0c0307"/><use href="#c" x="285" fill="#0a030b"/><use href="#c" x="295" fill="#0b0206"/><use href="#c" x="305" fill="#0a0206"/><use href="#c" x="315" fill="#090203"/><use href="#c" x="325" fill="#040206"/><use href="#c" x="335" fill="#0b0103"/><use href="#c" x="345" fill="#240000"/><use href="#c" x="355" fill="#4b0000"/><use href="#c" x="365" fill="#780000"/><use href="#c" x="375" fill="#9f0000"/><use href="#c" x="385" fill="#b80000"/><use href="#c" x="395" fill="#c60000"/><use href="#c" x="405" fill="#cd0000"/><use href="#c" x="415" fill="#d10000"/><use href="#c" x="425" fill="#d40000"/><use href="#c" x="435" fill="#d60000"/>
</g>
<g transform="translate(0,320)">
<use href="#c" x="145" fill="#255100"/><use href="#c" x="155" fill="#224800"/><use href="#c" x="165" fill="#1f3f00"/><use href="#c" x="175" fill="#1c3400"/><use href="#c" x="185" fill="#1b2a00"/><use href="#c" x="195" fill="#1b1f00"/><use href="#c" x="205" fill="#1c1600"/><use href="#c" x="215" fill="#1c0f00"/><use href="#c" x="225" fill="#1b0900"/><use href="#c" x="235" fill="#1a0600"/><use href="#c" x="245" fill="#170400"/><use href="#c" x="255" fill="#140200"/><use href="#c" x="265" fill="#100200"/><use href="#c" x="275" fill="#0d0100"/><use href="#c" x="285" fill="#0a0100"/><use href="#c" x="295" fill="#090100"/><use href="#c" x="305" fill="#0a0000"/><use href="#c" x="315" fill="#0a0000"/><use href="#c" x="325" fill="#0b0000"/><use href="#c" x="335" fill="#150000"/><use href="#c" x="345" fill="#2b0000"/><use href="#c" x="355" fill="#4a0000"/><use href="#c" x="365" fill="#6d0000"/><use href="#c" x="375" fill="#8c0000"/><use href="#c" x="385" fill="#a40000"/><use href="#c" x="395" fill="#b40000"/><use href="#c" x="405" fill="#be0000"/><use href="#c" x="415" fill="#c50000"/><use href="#c" x="425" fill="#ca0000"/><use href="#c" x="435" fill="#cd0000"/>
</g>
</g></g>
<g clip-path="url(#faceClip)"><g filter="url(#bl3)" transform="translate(0,-2)">
<g transform="translate(0,74)">
<use href="#f" x="286" fill="#fcfeff"/><use href="#f" x="290" fill="#fefefb"/><use href="#f" x="294" fill="#fffef6"/><use href="#f" x="298" fill="#fffdf1"/><use href="#f" x="302" fill="#fffceb"/><use href="#f" x="306" fill="#fffbe4"/><use href="#f" x="310" fill="#fffadc"/><use href="#f" x="314" fill="#fff9d3"/><use href="#f" x="318" fill="#fff7ca"/><use href="#f" x="322" fill="#fff6c0"/><use href="#f" x="326" fill="#fff4b6"/><use href="#f" x="330" fill="#fff2ac"/>
</g>
<g transform="translate(0,82)">
<use href="#f" x="286" fill="#fcfeff"/><use href="#f" x="290" fill="#feffff"/><use href="#f" x="294" fill="#fffffb"/><use href="#f" x="298" fill="#fffef6"/><use href="#f" x="302" fill="#fffdf0"/><use href="#f" x="306" fill="#fffce8"/><use href="#f" x="310" fill="#fffbe0"/><use href="#f" x="314" fill="#fff9d6"/><use href="#f" x="318" fill="#fff8cb"/><use href="#f" x="322" fill="#fff6c0"/><use href="#f" x="326" fill="#fff4b4"/><use href="#f" x="330" fill="#fff1a8"/>
</g>
<g transform="translate(0,90)">
<use href="#f" x="286" fill="#fafeff"/><use href="#f" x="290" fill="#fcffff"/><use href="#f" x="294" fill="#feffff"/><use href="#f" x="298" fill="#fffffc"/><use href="#f" x="302" fill="#fffef7"/><use href="#f" x="306" fill="#fffdef"/><use href="#f" x="310" fill="#fffce6"/><use href="#f" x="314" fill="#fffada"/><use href="#f" x="318" fill="#fff8cd"/><use href="#f" x="322" fill="#fff5bf"/><use href="#f" x="326" fill="#fff3b0"/><use href="#f" x="330" fill="#fff0a1"/>
</g>
<g transform="translate(0,98)">
<use href="#f" x="286" fill="#f6fdff"/><use href="#f" x="290" fill="#f9feff"/><use href="#f" x="294" fill="#fcffff"/><use href="#f" x="298" fill="#feffff"/><use href="#f" x="302" fill="#ffffff"/><use href="#f" x="306" fill="#fffef8"/><use href="#f" x="310" fill="#fffded"/><use href="#f" x="314" fill="#fffadf"/><use href="#f" x="318" fill="#fff8ce"/><use href="#f" x="322" fill="#fff5bb"/><use href="#f" x="326" fill="#fff1a8"/><use href="#f" x="330" fill="#ffee96"/>
</g>
<g transform="translate(0,106)">
<use href="#f" x="286" fill="#f3fbff"/><use href="#f" x="290" fill="#f6fcff"/><use href="#f" x="294" fill="#fafeff"/><use href="#f" x="298" fill="#fdffff"/><use href="#f" x="302" fill="#ffffff"/><use href="#f" x="306" fill="#ffffff"/><use href="#f" x="310" fill="#fffef7"/><use href="#f" x="314" fill="#fffbe3"/><use href="#f" x="318" fill="#fff7ca"/><use href="#f" x="322" fill="#fff3b0"/><use href="#f" x="326" fill="#ffee98"/><use href="#f" x="330" fill="#ffeb83"/>
</g>
<g transform="translate(0,114)">
<use href="#f" x="286" fill="#edf8ff"/><use href="#f" x="290" fill="#f2f9ff"/><use href="#f" x="294" fill="#f8fbff"/><use href="#f" x="298" fill="#feffff"/><use href="#f" x="302" fill="#ffffff"/><use href="#f" x="306" fill="#ffffff"/><use href="#f" x="310" fill="#fffef7"/><use href="#f" x="314" fill="#fffadb"/><use href="#f" x="318" fill="#fff4b5"/><use href="#f" x="322" fill="#ffee94"/><use href="#f" x="326" fill="#ffe979"/><use href="#f" x="330" fill="#ffe563"/>
</g>
<g transform="translate(0,122)">
<use href="#f" x="286" fill="#e8f5ff"/><use href="#f" x="290" fill="#edf7ff"/><use href="#f" x="294" fill="#f3f9ff"/><use href="#f" x="298" fill="#fbfdff"/><use href="#f" x="302" fill="#ffffff"/><use href="#f" x="306" fill="#fffff9"/><use href="#f" x="310" fill="#fffce3"/><use href="#f" x="314" fill="#fff3a7"/><use href="#f" x="318" fill="#ffeb76"/><use href="#f" x="322" fill="#ffe55a"/><use href="#f" x="326" fill="#ffe045"/><use href="#f" x="330" fill="#ffdc36"/>
</g>
<g transform="translate(0,130)">
<use href="#f" x="286" fill="#e2f3ff"/><use href="#f" x="290" fill="#e7f5ff"/><use href="#f" x="294" fill="#eef8ff"/><use href="#f" x="298" fill="#f6fbff"/><use href="#f" x="302" fill="#fbfefd"/><use href="#f" x="306" fill="#fefdea"/><use href="#f" x="310" fill="#fff5b0"/><use href="#f" x="314" fill="#ffe966"/><use href="#f" x="318" fill="#ffde34"/><use href="#f" x="322" fill="#ffd81d"/><use href="#f" x="326" fill="#ffd410"/><use href="#f" x="330" fill="#ffd108"/>
</g>
<g transform="translate(0,138)">
<use href="#f" x="286" fill="#dbf0ff"/><use href="#f" x="290" fill="#dff0ff"/><use href="#f" x="294" fill="#e7f3fd"/><use href="#f" x="298" fill="#f3f9fb"/><use href="#f" x="302" fill="#fbfbef"/><use href="#f" x="306" fill="#fefad2"/><use href="#f" x="310" fill="#fff4a4"/><use href="#f" x="314" fill="#ffe448"/><use href="#f" x="318" fill="#ffd106"/><use href="#f" x="322" fill="#ffcb00"/><use href="#f" x="326" fill="#ffc900"/><use href="#f" x="330" fill="#ffc800"/>
</g>
<g transform="translate(0,146)">
<use href="#f" x="286" fill="#d7efff"/><use href="#f" x="290" fill="#def1ff"/><use href="#f" x="294" fill="#e8f5ff"/><use href="#f" x="298" fill="#f4faff"/><use href="#f" x="302" fill="#fcfdfa"/><use href="#f" x="306" fill="#fffbe2"/><use href="#f" x="310" fill="#fff29f"/><use href="#f" x="314" fill="#ffe354"/><use href="#f" x="318" fill="#ffd51a"/><use href="#f" x="322" fill="#ffcb00"/><use href="#f" x="326" fill="#ffc600"/><use href="#f" x="330" fill="#ffc400"/>
</g>
<g transform="translate(0,154)">
<use href="#f" x="286" fill="#d1edff"/><use href="#f" x="290" fill="#d8efff"/><use href="#f" x="294" fill="#e2f3ff"/><use href="#f" x="298" fill="#eef8fe"/><use href="#f" x="302" fill="#f8fbf2"/><use href="#f" x="306" fill="#fdf9d1"/><use href="#f" x="310" fill="#fff294"/><use href="#f" x="314" fill="#ffe446"/><use href="#f" x="318" fill="#ffd508"/><use href="#f" x="322" fill="#ffcb00"/><use href="#f" x="326" fill="#ffc600"/><use href="#f" x="330" fill="#ffc300"/>
</g>
<g transform="translate(0,162)">
<use href="#f" x="286" fill="#cbebff"/><use href="#f" x="290" fill="#d4edff"/><use href="#f" x="294" fill="#e1f2ff"/><use href="#f" x="298" fill="#f1f8fd"/><use href="#f" x="302" fill="#fcfcf6"/><use href="#f" x="306" fill="#fffbe2"/><use href="#f" x="310" fill="#fff29e"/><use href="#f" x="314" fill="#ffe654"/><use href="#f" x="318" fill="#ffd71a"/><use href="#f" x="322" fill="#ffcc02"/><use href="#f" x="326" fill="#ffc600"/><use href="#f" x="330" fill="#ffc400"/>
</g>
<g transform="translate(0,170)">
<use href="#f" x="286" fill="#c4e9ff"/><use href="#f" x="290" fill="#ceedff"/><use href="#f" x="294" fill="#ddf2ff"/><use href="#f" x="298" fill="#edf7fc"/><use href="#f" x="302" fill="#f8faef"/><use href="#f" x="306" fill="#fef8d0"/><use href="#f" x="310" fill="#fff196"/><use href="#f" x="314" fill="#ffe44e"/><use href="#f" x="318" fill="#ffd715"/><use href="#f" x="322" fill="#ffcd00"/><use href="#f" x="326" fill="#ffc900"/><use href="#f" x="330" fill="#ffc600"/>
</g>
<g transform="translate(0,178)">
<use href="#f" x="286" fill="#bae5ff"/><use href="#f" x="290" fill="#c0e7ff"/><use href="#f" x="294" fill="#d2edfc"/><use href="#f" x="298" fill="#edf6fb"/><use href="#f" x="302" fill="#fdfaf2"/><use href="#f" x="306" fill="#fff8db"/><use href="#f" x="310" fill="#fff1a3"/><use href="#f" x="314" fill="#ffe55f"/><use href="#f" x="318" fill="#fedb30"/><use href="#f" x="322" fill="#fed319"/><use href="#f" x="326" fill="#fece0a"/><use href="#f" x="330" fill="#fdcb00"/>
</g>
<g transform="translate(0,186)">
<use href="#f" x="286" fill="#b6e2ff"/><use href="#f" x="290" fill="#c2e6ff"/><use href="#f" x="294" fill="#d6ecff"/><use href="#f" x="298" fill="#edf4fb"/><use href="#f" x="302" fill="#f7f6f0"/><use href="#f" x="306" fill="#faf3d6"/><use href="#f" x="310" fill="#faedae"/><use href="#f" x="314" fill="#fae584"/><use href="#f" x="318" fill="#fade60"/><use href="#f" x="322" fill="#fad843"/><use href="#f" x="326" fill="#fad32e"/><use href="#f" x="330" fill="#facf1e"/>
</g>
<g transform="translate(0,194)">
<use href="#f" x="286" fill="#acdbff"/><use href="#f" x="290" fill="#b0dcfe"/><use href="#f" x="294" fill="#bfdffb"/><use href="#f" x="298" fill="#d4e5f4"/><use href="#f" x="302" fill="#e1e8e2"/><use href="#f" x="306" fill="#e8e8cb"/><use href="#f" x="310" fill="#ede5b0"/><use href="#f" x="314" fill="#efe194"/><use href="#f" x="318" fill="#f1dd78"/><use href="#f" x="322" fill="#f2d960"/><use href="#f" x="326" fill="#f3d54b"/><use href="#f" x="330" fill="#f4d13a"/>
</g>
<g transform="translate(0,202)">
<use href="#f" x="286" fill="#abd8fc"/><use href="#f" x="290" fill="#b0d8f5"/><use href="#f" x="294" fill="#b9daee"/><use href="#f" x="298" fill="#c5dce4"/><use href="#f" x="302" fill="#cfded5"/><use href="#f" x="306" fill="#d8dec3"/><use href="#f" x="310" fill="#dedeaf"/><use href="#f" x="314" fill="#e3dc9a"/><use href="#f" x="318" fill="#e7d985"/><use href="#f" x="322" fill="#e9d771"/><use href="#f" x="326" fill="#ebd45e"/><use href="#f" x="330" fill="#edd14e"/>
</g>
</g></g>
<g clip-path="url(#diskClip)"><g filter="url(#bl3)" transform="translate(-2,-2)">
<g transform="translate(0,160)">
<use href="#d" x="250" fill="#97d7b6"/><use href="#d" x="258" fill="#a4deb4"/><use href="#d" x="266" fill="#b3e6af"/><use href="#d" x="274" fill="#c2efa9"/><use href="#d" x="282" fill="#d3f69f"/><use href="#d" x="290" fill="#e2fc91"/><use href="#d" x="298" fill="#effe7a"/><use href="#d" x="306" fill="#f8fc5a"/><use href="#d" x="314" fill="#fdf733"/><use href="#d" x="322" fill="#ffef13"/><use href="#d" x="330" fill="#ffe403"/><use href="#d" x="338" fill="#ffd500"/><use href="#d" x="346" fill="#ffc000"/><use href="#d" x="354" fill="#ffa500"/><use href="#d" x="362" fill="#ff8b00"/><use href="#d" x="370" fill="#ff7300"/><use href="#d" x="378" fill="#ff5f00"/><use href="#d" x="386" fill="#ff4d00"/><use href="#d" x="394" fill="#ff4000"/><use href="#d" x="402" fill="#ff3500"/><use href="#d" x="410" fill="#ff2e00"/><use href="#d" x="418" fill="#ff2900"/><use href="#d" x="426" fill="#ff2500"/><use href="#d" x="434" fill="#ff2300"/>
</g>
<g transform="translate(0,168)">
<use href="#d" x="250" fill="#8bcdc1"/><use href="#d" x="258" fill="#98d5c0"/><use href="#d" x="266" fill="#a7debe"/><use href="#d" x="274" fill="#bae8bb"/><use href="#d" x="282" fill="#cdf2b5"/><use href="#d" x="290" fill="#e0faaa"/><use href="#d" x="298" fill="#f0fd97"/><use href="#d" x="306" fill="#fafa73"/><use href="#d" x="314" fill="#fff139"/><use href="#d" x="322" fill="#ffe70c"/><use href="#d" x="330" fill="#ffd900"/><use href="#d" x="338" fill="#ffca00"/><use href="#d" x="346" fill="#ffb400"/><use href="#d" x="354" fill="#ff9200"/><use href="#d" x="362" fill="#ff7700"/><use href="#d" x="370" fill="#ff6000"/><use href="#d" x="378" fill="#ff4b00"/><use href="#d" x="386" fill="#ff3a00"/><use href="#d" x="394" fill="#ff2e00"/><use href="#d" x="402" fill="#ff2600"/><use href="#d" x="410" fill="#ff2000"/><use href="#d" x="418" fill="#ff1c00"/><use href="#d" x="426" fill="#ff1a00"/><use href="#d" x="434" fill="#ff1901"/>
</g>
<g transform="translate(0,176)">
<use href="#d" x="250" fill="#7bc1cc"/><use href="#d" x="258" fill="#88c9cc"/><use href="#d" x="266" fill="#98d3cd"/><use href="#d" x="274" fill="#acdecd"/><use href="#d" x="282" fill="#c4ebcb"/><use href="#d" x="290" fill="#dcf6c7"/><use href="#d" x="298" fill="#f1fcbc"/><use href="#d" x="306" fill="#fdf8a3"/><use href="#d" x="314" fill="#ffe950"/><use href="#d" x="322" fill="#ffd113"/><use href="#d" x="330" fill="#ffbd04"/><use href="#d" x="338" fill="#ffa400"/><use href="#d" x="346" fill="#ff8000"/><use href="#d" x="354" fill="#ff6d01"/><use href="#d" x="362" fill="#ff5a00"/><use href="#d" x="370" fill="#ff4a00"/><use href="#d" x="378" fill="#ff3403"/><use href="#d" x="386" fill="#ff2505"/><use href="#d" x="394" fill="#ff1c05"/><use href="#d" x="402" fill="#ff1605"/><use href="#d" x="410" fill="#ff1205"/><use href="#d" x="418" fill="#ff1005"/><use href="#d" x="426" fill="#ff1006"/><use href="#d" x="434" fill="#ff1006"/>
</g>
<g transform="translate(0,184)">
<use href="#d" x="250" fill="#69b3d4"/><use href="#d" x="258" fill="#74b9d6"/><use href="#d" x="266" fill="#83c2d9"/><use href="#d" x="274" fill="#98cfdc"/><use href="#d" x="282" fill="#b4dedf"/><use href="#d" x="290" fill="#d3eee1"/><use href="#d" x="298" fill="#edf8df"/><use href="#d" x="306" fill="#fcf8d0"/><use href="#d" x="314" fill="#ffe899"/><use href="#d" x="322" fill="#ffc349"/><use href="#d" x="330" fill="#ffa327"/><use href="#d" x="338" fill="#ff8519"/><use href="#d" x="346" fill="#ff570b"/><use href="#d" x="354" fill="#ff430d"/><use href="#d" x="362" fill="#ff370e"/><use href="#d" x="370" fill="#ff2c0d"/><use href="#d" x="378" fill="#ff1f0d"/><use href="#d" x="386" fill="#ff150e"/><use href="#d" x="394" fill="#ff0e0e"/><use href="#d" x="402" fill="#ff0a0d"/><use href="#d" x="410" fill="#ff070c"/><use href="#d" x="418" fill="#ff060c"/><use href="#d" x="426" fill="#fe070c"/><use href="#d" x="434" fill="#fe090d"/>
</g>
<g transform="translate(0,192)">
<use href="#d" x="250" fill="#55a1db"/><use href="#d" x="258" fill="#5ca6de"/><use href="#d" x="266" fill="#68ade2"/><use href="#d" x="274" fill="#7ab7e6"/><use href="#d" x="282" fill="#97c7ec"/><use href="#d" x="290" fill="#bedcf4"/><use href="#d" x="298" fill="#d7e5f6"/><use href="#d" x="306" fill="#ebe4e7"/><use href="#d" x="314" fill="#f6cdaa"/><use href="#d" x="322" fill="#feaa7c"/><use href="#d" x="330" fill="#ff8656"/><use href="#d" x="338" fill="#ff6034"/><use href="#d" x="346" fill="#ff3d1f"/><use href="#d" x="354" fill="#ff292b"/><use href="#d" x="362" fill="#ff1d2b"/><use href="#d" x="370" fill="#ff1828"/><use href="#d" x="378" fill="#ff101c"/><use href="#d" x="386" fill="#ff0d1c"/><use href="#d" x="394" fill="#ff0817"/><use href="#d" x="402" fill="#ff0515"/><use href="#d" x="410" fill="#ff0215"/><use href="#d" x="418" fill="#fe0114"/><use href="#d" x="426" fill="#fc0214"/><use href="#d" x="434" fill="#fc0414"/>
</g>
<g transform="translate(0,200)">
<use href="#d" x="250" fill="#408ee0"/><use href="#d" x="258" fill="#428fe2"/><use href="#d" x="266" fill="#4792e6"/><use href="#d" x="274" fill="#5097ea"/><use href="#d" x="282" fill="#64a1f0"/><use href="#d" x="290" fill="#7faef6"/><use href="#d" x="298" fill="#75a1f6"/><use href="#d" x="306" fill="#9ba3f2"/><use href="#d" x="314" fill="#cc97dc"/><use href="#d" x="322" fill="#f07cbb"/><use href="#d" x="330" fill="#fb5b93"/><use href="#d" x="338" fill="#ff4066"/><use href="#d" x="346" fill="#ff2e4f"/><use href="#d" x="354" fill="#ff1e5d"/><use href="#d" x="362" fill="#ff165f"/><use href="#d" x="370" fill="#ff1354"/><use href="#d" x="378" fill="#ff124e"/><use href="#d" x="386" fill="#ff0f38"/><use href="#d" x="394" fill="#ff0c26"/><use href="#d" x="402" fill="#ff0a21"/><use href="#d" x="410" fill="#ff091e"/><use href="#d" x="418" fill="#fd051b"/><use href="#d" x="426" fill="#fa021c"/><use href="#d" x="434" fill="#f9031c"/>
</g>
<g transform="translate(0,208)">
<use href="#d" x="250" fill="#2c7ae2"/><use href="#d" x="258" fill="#2977e4"/><use href="#d" x="266" fill="#2674e7"/><use href="#d" x="274" fill="#2272ea"/><use href="#d" x="282" fill="#2770eb"/><use href="#d" x="290" fill="#3675ed"/><use href="#d" x="298" fill="#4776f0"/><use href="#d" x="306" fill="#7b82ee"/><use href="#d" x="314" fill="#a46fe3"/><use href="#d" x="322" fill="#cb54cd"/><use href="#d" x="330" fill="#e035b4"/><use href="#d" x="338" fill="#f42393"/><use href="#d" x="346" fill="#ff1680"/><use href="#d" x="354" fill="#ff137c"/><use href="#d" x="362" fill="#ff117a"/><use href="#d" x="370" fill="#ff1274"/><use href="#d" x="378" fill="#ff1470"/><use href="#d" x="386" fill="#ff135a"/><use href="#d" x="394" fill="#ff1348"/><use href="#d" x="402" fill="#ff1440"/><use href="#d" x="410" fill="#ff1032"/><use href="#d" x="418" fill="#fd0b28"/><use href="#d" x="426" fill="#f90527"/><use href="#d" x="434" fill="#f70326"/>
</g>
<g transform="translate(0,216)">
<use href="#d" x="250" fill="#1b67e3"/><use href="#d" x="258" fill="#1661e4"/><use href="#d" x="266" fill="#0e59e5"/><use href="#d" x="274" fill="#0653e6"/><use href="#d" x="282" fill="#0649e3"/><use href="#d" x="290" fill="#144de6"/><use href="#d" x="298" fill="#204de7"/><use href="#d" x="306" fill="#3949e5"/><use href="#d" x="314" fill="#573edf"/><use href="#d" x="322" fill="#7a30d3"/><use href="#d" x="330" fill="#9e21c2"/><use href="#d" x="338" fill="#c51bad"/><use href="#d" x="346" fill="#e9179a"/><use href="#d" x="354" fill="#ff1284"/><use href="#d" x="362" fill="#fe0f83"/><use href="#d" x="370" fill="#fe1080"/><use href="#d" x="378" fill="#fd127c"/><use href="#d" x="386" fill="#fe1471"/><use href="#d" x="394" fill="#fd1563"/><use href="#d" x="402" fill="#fc1658"/><use href="#d" x="410" fill="#fb1248"/><use href="#d" x="418" fill="#f90c3c"/><use href="#d" x="426" fill="#f60735"/><use href="#d" x="434" fill="#f40431"/>
</g>
<g transform="translate(0,224)">
<use href="#d" x="250" fill="#1058e2"/><use href="#d" x="258" fill="#0b50e2"/><use href="#d" x="266" fill="#0647e2"/><use href="#d" x="274" fill="#0540df"/><use href="#d" x="282" fill="#0739df"/><use href="#d" x="290" fill="#0a39df"/><use href="#d" x="298" fill="#0f39e0"/><use href="#d" x="306" fill="#1e31dc"/><use href="#d" x="314" fill="#2d29d7"/><use href="#d" x="322" fill="#4821cd"/><use href="#d" x="330" fill="#6c19bb"/><use href="#d" x="338" fill="#8714ad"/><use href="#d" x="346" fill="#b60fa4"/><use href="#d" x="354" fill="#d50e97"/><use href="#d" x="362" fill="#e80d8c"/><use href="#d" x="370" fill="#f00d86"/><use href="#d" x="378" fill="#f20f82"/><use href="#d" x="386" fill="#f4107a"/><use href="#d" x="394" fill="#f51170"/><use href="#d" x="402" fill="#f41164"/><use href="#d" x="410" fill="#f40e57"/><use href="#d" x="418" fill="#f20a4b"/><use href="#d" x="426" fill="#f10643"/><use href="#d" x="434" fill="#ef033d"/>
</g>
<g transform="translate(0,232)">
<use href="#d" x="250" fill="#094be1"/><use href="#d" x="258" fill="#0644e0"/><use href="#d" x="266" fill="#043cde"/><use href="#d" x="274" fill="#0536db"/><use href="#d" x="282" fill="#0530db"/><use href="#d" x="290" fill="#082cd9"/><use href="#d" x="298" fill="#1129d6"/><use href="#d" x="306" fill="#1923d3"/><use href="#d" x="314" fill="#291ccc"/><use href="#d" x="322" fill="#3e16c2"/><use href="#d" x="330" fill="#5512b5"/><use href="#d" x="338" fill="#6e0fac"/><use href="#d" x="346" fill="#930ba6"/><use href="#d" x="354" fill="#b4099e"/><use href="#d" x="362" fill="#cb0995"/><use href="#d" x="370" fill="#d9098e"/><use href="#d" x="378" fill="#e10a88"/><use href="#d" x="386" fill="#e60c80"/><use href="#d" x="394" fill="#e90c77"/><use href="#d" x="402" fill="#ea0c6c"/><use href="#d" x="410" fill="#eb0a61"/><use href="#d" x="418" fill="#eb0757"/><use href="#d" x="426" fill="#ea044e"/><use href="#d" x="434" fill="#ea0147"/>
</g>
</g></g>
<g id="grid">
<ellipse cx="292.5" cy="200.0" rx="22.5" ry="5.5" fill="none" stroke="url(#lineG)" stroke-width="1.0"/>
<ellipse cx="292.5" cy="200.0" rx="45.0" ry="11.0" fill="none" stroke="url(#lineG)" stroke-width="1.0"/>
<ellipse cx="292.5" cy="200.0" rx="67.5" ry="16.5" fill="none" stroke="url(#lineG)" stroke-width="1.0"/>
<ellipse cx="292.5" cy="200.0" rx="90.0" ry="22.0" fill="none" stroke="url(#lineG)" stroke-width="1.0"/>
<ellipse cx="292.5" cy="200.0" rx="112.5" ry="27.5" fill="none" stroke="url(#lineG)" stroke-width="1.0"/>
<ellipse cx="292.5" cy="200.0" rx="135.0" ry="33.0" fill="none" stroke="url(#lineG)" stroke-width="1.0"/>
<line x1="157.5" y1="200.0" x2="428.0" y2="200.0" stroke="url(#lineG)" stroke-width="1.0"/>
<line x1="327.0" y1="168.1" x2="258.0" y2="231.9" stroke="url(#lineG)" stroke-width="1.0"/>
<line x1="291.5" y1="79" x2="291.5" y2="200.0" stroke="#68727c" stroke-width="0.8"/>
<path d="M259.5,200 C 260,180 261,165 262.5,150 S 268,108 291,82" fill="none" stroke="#fff" stroke-width="1.8" opacity="0.11" filter="url(#bl05)"/>
<path d="M258,232 C 258,220 259,210 259.5,200" fill="none" stroke="#fff" stroke-width="1.2" opacity="0.1"/>
</g>
</g>
<g id="labels" style="will-change:transform">
<text x="281.9 292.2 302.5" y="52.4" font-size="14" fill="#333" stroke="#333" stroke-width="0.3">+L*</text>
<text x="282.4" y="70" font-size="17" fill="#333" stroke="#333" stroke-width="0.2" font-family='"Liberation Sans","Noto Sans CJK SC",sans-serif'>白</text>
<text x="336.3 348.6 358.4" y="143.4" font-size="14" fill="#333" stroke="#333" stroke-width="0.3">+b*</text>
<text x="337.5" y="161.4" font-size="17" fill="#333" stroke="#333" stroke-width="0.2" font-family='"Liberation Sans","Noto Sans CJK SC",sans-serif'>黄</text>
<text x="128.5 135.8 145.6" y="195.8" font-size="14" fill="#333" stroke="#333" stroke-width="0.3">-a*</text>
<text x="129.6" y="212" font-size="16.5" fill="#333" stroke="#333" stroke-width="0.2" font-family='"Liberation Sans","Noto Sans CJK SC",sans-serif'>绿</text>
<text x="436.6 448.6 459.0" y="194.1" font-size="14" fill="#333" stroke="#333" stroke-width="0.3">+a*</text>
<text x="438.4" y="211.7" font-size="17" fill="#333" stroke="#333" stroke-width="0.2" font-family='"Liberation Sans","Noto Sans CJK SC",sans-serif'>红</text>
<text x="249.7 256.9 266.7" y="240.9" font-size="14" fill="#fff" stroke="#fff" stroke-width="0.3">-b*</text>
<text x="249.9" y="258.9" font-size="17" fill="#fff" stroke="#fff" stroke-width="0.2" font-family='"Liberation Sans","Noto Sans CJK SC",sans-serif'>蓝</text>
<text x="285.1 292.4 302.3" y="339.3" font-size="14" fill="#333" stroke="#333" stroke-width="0.3">-L*</text>
<text x="286.4" y="357.5" font-size="17" fill="#333" stroke="#333" stroke-width="0.2" font-family='"Liberation Sans","Noto Sans CJK SC",sans-serif'>黑</text>
</g>
</svg>
</body></html>
